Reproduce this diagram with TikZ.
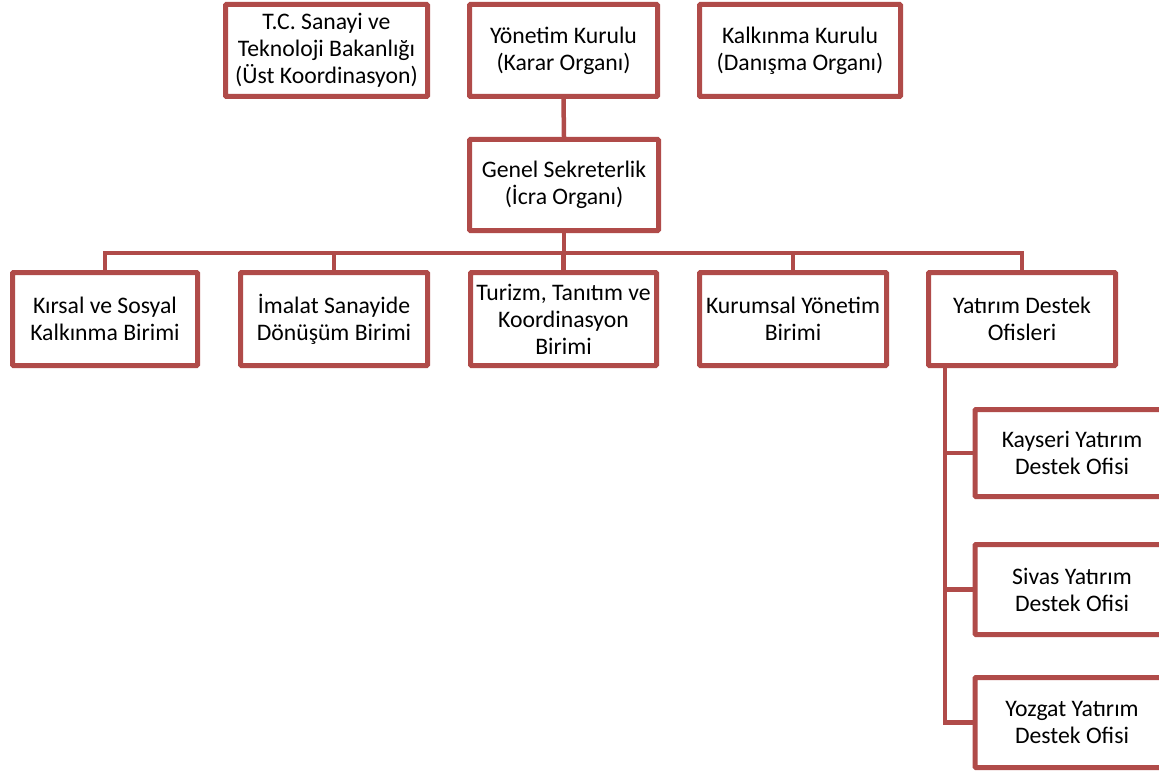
\documentclass[tikz,border=0pt]{standalone}
\usepackage{fontspec}
\setmainfont{Carlito}
\definecolor{boxred}{RGB}{176,75,73}
\begin{document}
\begin{tikzpicture}[x=1pt,y=-1pt,
  orgbox/.style={draw=boxred, line width=5pt, fill=white, rounded corners=1pt,
    align=center, inner sep=0pt, font=\fontsize{23.7pt}{27pt}\selectfont},
  conn/.style={draw=boxred, line width=4.5pt}]
\useasboundingbox (0,0) rectangle (1159,773);
% top row
\node[orgbox, minimum width=202pt, minimum height=92pt] (tc) at (326.5,50.5) {T.C. Sanayi ve\\Teknoloji Bakanlığı\\(Üst Koordinasyon)};
\node[orgbox, minimum width=188pt, minimum height=92pt] (yk) at (563.5,50.5) {Yönetim Kurulu\\(Karar Organı)};
\node[orgbox, minimum width=201pt, minimum height=92pt] (kk) at (800,50.5) {Kalkınma Kurulu\\(Danışma Organı)};
% middle
\node[orgbox, minimum width=189pt, minimum height=91pt] (gs) at (564,185) {Genel Sekreterlik\\(İcra Organı)};
% second row
\node[orgbox, minimum width=185pt, minimum height=93pt] (kb) at (105,319) {Kırsal ve Sosyal\\Kalkınma Birimi};
\node[orgbox, minimum width=187pt, minimum height=93pt] (ib) at (334,319) {İmalat Sanayide\\Dönüşüm Birimi};
\node[orgbox, minimum width=186pt, minimum height=93pt] (tb) at (563.5,319) {Turizm, Tanıtım ve\\Koordinasyon\\Birimi};
\node[orgbox, minimum width=187pt, minimum height=93pt] (ky) at (793,319) {Kurumsal Yönetim\\Birimi};
\node[orgbox, minimum width=187pt, minimum height=93pt] (yd) at (1022,319) {Yatırım Destek\\Ofisleri};
% offices
\node[orgbox, minimum width=194pt, minimum height=87pt] (ka) at (1072,453) {Kayseri Yatırım\\Destek Ofisi};
\node[orgbox, minimum width=194pt, minimum height=90pt] (si) at (1072,589.5) {Sivas Yatırım\\Destek Ofisi};
\node[orgbox, minimum width=194pt, minimum height=90pt] (yo) at (1072,722.5) {Yozgat Yatırım\\Destek Ofisi};
% helper coordinates
\coordinate (bus) at (0,253);
\coordinate (spine) at (945,0);
% connectors
\draw[conn] (yk.south) -- (gs.north);
\foreach \c in {kb,ib,tb,ky,yd}{
  \draw[conn] (gs.south) |- (\c.north |- bus) -- (\c.north);
}
\foreach \c in {ka,si,yo}{
  \draw[conn] (spine |- yd.south) |- (\c.west);
}
\end{tikzpicture}
\end{document}
